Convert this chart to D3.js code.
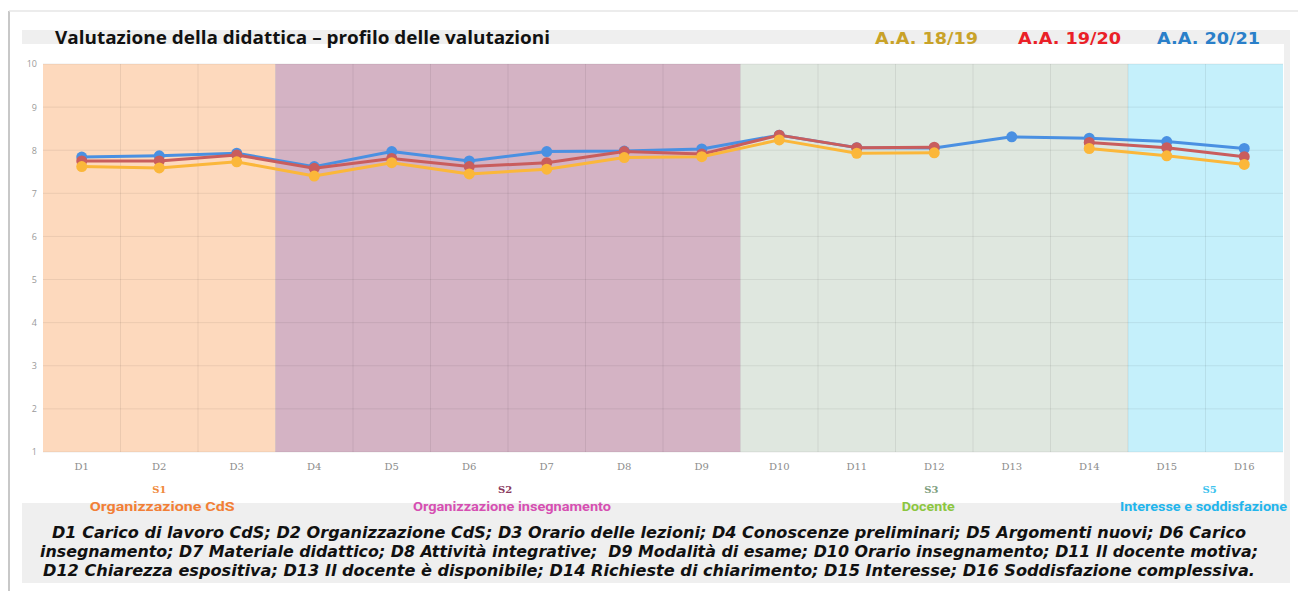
<!DOCTYPE html>
<html>
<head>
<meta charset="utf-8">
<script src="https://cdn.jsdelivr.net/npm/d3@7"></script>
<style>
  body { margin: 0; background: #fff; }
  svg { display: block; }
</style>
</head>
<body>
<div id="chart"></div>
<script>
// categories and series
const categories = ["D1","D2","D3","D4","D5","D6","D7","D8","D9","D10","D11","D12","D13","D14","D15","D16"]
const seriesNames = ["A.A. 18/19", "A.A. 19/20", "A.A. 20/21"]
const aa1819 = [7.62, 7.59, 7.73, 7.40, 7.71, 7.45, 7.56, 7.83, 7.85, 8.24, 7.93, 7.94, null, 8.04, 7.87, 7.67]
const aa1920 = [7.75, 7.75, 7.89, 7.58, 7.81, 7.62, 7.71, 7.97, 7.91, 8.35, 8.06, 8.07, null, 8.18, 8.06, 7.85]
const aa2021 = [7.84, 7.87, 7.93, 7.62, 7.97, 7.75, 7.97, 7.98, 8.03, 8.35, 8.06, 8.05, 8.31, 8.28, 8.20, 8.04]
const yTicks = [1, 2, 3, 4, 5, 6, 7, 8, 9, 10]

// sections of the questionnaire
const sectionCodes = ["S1", "S2", "S3", "S5"]
const sectionNames = ["Organizzazione CdS", "Organizzazione insegnamento", "Docente", "Interesse e soddisfazione"]
const sectionFirst = ["D1", "D4", "D10", "D15"]
const sectionLast = ["D3", "D9", "D14", "D16"]

const footnote = [
  "D1 Carico di lavoro CdS; D2 Organizzazione CdS; D3 Orario delle lezioni; D4 Conoscenze preliminari; D5 Argomenti nuovi; D6 Carico",
  "insegnamento; D7 Materiale didattico; D8 Attività integrative;  D9 Modalità di esame; D10 Orario insegnamento; D11 Il docente motiva;",
  "D12 Chiarezza espositiva; D13 Il docente è disponibile; D14 Richieste di chiarimento; D15 Interesse; D16 Soddisfazione complessiva."
]

const W = 1298, H = 595
const plot = {left: 43, right: 1283, top: 64, bottom: 452}

const bandFill = ["#fdd9bd", "#d4b3c4", "#dfe7df", "#c5f0fb"]
const codeColor = ["#f08a3c", "#8a3a5e", "#7fa07f", "#3ec3ee"]
const nameColor = ["#f27f36", "#d64fb2", "#8cc63f", "#22b5ec"]
const lineColor = ["#fbb73a", "#c95d5d", "#4a90e2"]
const legendColor = ["#c9a228", "#ea2027", "#2a7fc9"]

const svg = d3.select("#chart").append("svg")
  .attr("width", W).attr("height", H)

// card frame
svg.append("rect").attr("x", 8).attr("y", 11).attr("width", W - 8).attr("height", 580)
  .attr("fill", "#fff")
svg.append("line").attr("x1", 9).attr("x2", 9).attr("y1", 11).attr("y2", 591)
  .attr("stroke", "#c8c8c8").attr("stroke-width", 2)
svg.append("line").attr("x1", 9).attr("x2", W).attr("y1", 11).attr("y2", 11)
  .attr("stroke", "#e6e6e6").attr("stroke-width", 1.5)
svg.append("rect").attr("x", 22).attr("y", 30).attr("width", 1268).attr("height", 14).attr("fill", "#efefef")
svg.append("rect").attr("x", 1284).attr("y", 30).attr("width", 6).attr("height", 475).attr("fill", "#efefef")
svg.append("rect").attr("x", 22).attr("y", 503).attr("width", 1268).attr("height", 80).attr("fill", "#efefef")

const x = d3.scaleBand().domain(categories).range([plot.left, plot.right])
const y = d3.scaleLinear().domain([1, 10]).range([plot.bottom, plot.top])

// coloured section bands
sectionCodes.forEach((code, i) => {
  const x0 = x(sectionFirst[i]), x1 = x(sectionLast[i]) + x.bandwidth()
  svg.append("rect")
    .attr("x", x0).attr("y", plot.top)
    .attr("width", x1 - x0).attr("height", plot.bottom - plot.top)
    .attr("fill", bandFill[i])
  const cx = (x0 + x1) / 2
  svg.append("text").attr("x", cx + [0, -3, -3, 4][i]).attr("y", 493)
    .attr("text-anchor", "middle")
    .style("font", "bold 10px 'DejaVu Serif', serif")
    .attr("fill", codeColor[i]).text(code)
})

// grid
svg.append("g")
  .selectAll("line").data(yTicks).join("line")
  .attr("x1", plot.left).attr("x2", plot.right)
  .attr("y1", d => y(d)).attr("y2", d => y(d))
  .attr("stroke", "rgba(0,0,0,0.07)").attr("stroke-width", 1)
svg.append("g")
  .selectAll("line").data(categories.slice(1)).join("line")
  .attr("x1", d => x(d)).attr("x2", d => x(d))
  .attr("y1", plot.top).attr("y2", plot.bottom)
  .attr("stroke", "rgba(0,0,0,0.07)").attr("stroke-width", 1)

// y axis
const yAxis = svg.append("g")
  .attr("transform", `translate(${plot.left - 6},0)`)
  .call(d3.axisLeft(y).tickValues(yTicks).tickSize(0).tickPadding(0))
yAxis.select(".domain").remove()
yAxis.selectAll("text").attr("fill", "#9a9a9a").style("font", "9px 'Open Sans', sans-serif")

// x axis
const xAxis = svg.append("g")
  .attr("transform", `translate(0,${plot.bottom + 8})`)
  .call(d3.axisBottom(x).tickSize(0).tickPadding(3))
xAxis.select(".domain").remove()
xAxis.selectAll("text").attr("fill", "#8c8c8c").style("font", "10px 'DejaVu Serif', serif")

// section names
sectionCodes.forEach((code, i) => {
  const x0 = x(sectionFirst[i]), x1 = x(sectionLast[i]) + x.bandwidth()
  const cx = [(x0 + x1) / 2 + 3, (x0 + x1) / 2 + 4, (x0 + x1) / 2 - 6, (x0 + x1) / 2 - 2][i]
  svg.append("text").attr("x", cx).attr("y", 511)
    .attr("text-anchor", "middle")
    .attr("textLength", [145, 198, 53, 167][i]).attr("lengthAdjust", "spacingAndGlyphs")
    .style("font", "bold 13px 'Liberation Sans Narrow', 'Roboto', sans-serif")
    .attr("fill", nameColor[i]).text(sectionNames[i])
})

// series lines, drawn blue first then red then yellow
const series = [aa1819, aa1920, aa2021]
const order = [2, 1, 0]
const line = d3.line()
  .defined(d => d != null)
  .x((d, i) => x(categories[i]) + x.bandwidth() / 2)
  .y(d => y(d))

order.forEach(s => {
  const vals = series[s]
  svg.append("path").datum(vals)
    .attr("fill", "none").attr("stroke", lineColor[s]).attr("stroke-width", 3)
    .attr("stroke-linejoin", "round")
    .attr("d", line)
  svg.append("g").selectAll("circle")
    .data(vals.map((v, i) => ({v, c: categories[i]})).filter(d => d.v != null))
    .join("circle")
    .attr("cx", d => x(d.c) + x.bandwidth() / 2)
    .attr("cy", d => y(d.v))
    .attr("r", 5.5)
    .attr("fill", lineColor[s])
})

// title
svg.append("text").attr("x", 55).attr("y", 44)
  .attr("textLength", 495).attr("lengthAdjust", "spacingAndGlyphs")
  .style("font", "bold 17px 'Open Sans', sans-serif").attr("fill", "#111")
  .text("Valutazione della didattica – profilo delle valutazioni")

// legend
const legendX = [875, 1018, 1157]
seriesNames.forEach((name, i) => {
  svg.append("text").attr("x", legendX[i]).attr("y", 44)
    .attr("textLength", 103).attr("lengthAdjust", "spacingAndGlyphs")
    .style("font", "bold 16px 'DejaVu Sans', sans-serif")
    .attr("fill", legendColor[i]).text(name)
})

// footnote
footnote.forEach((t, i) => {
  svg.append("text").attr("x", 649).attr("y", 538 + i * 19)
    .attr("text-anchor", "middle")
    .attr("textLength", [1194, 1218, 1212][i]).attr("lengthAdjust", "spacingAndGlyphs")
    .style("font", "italic bold 15px 'DejaVu Sans', sans-serif")
    .style("white-space", "pre")
    .attr("fill", "#111").text(t)
})
</script>
</body>
</html>
